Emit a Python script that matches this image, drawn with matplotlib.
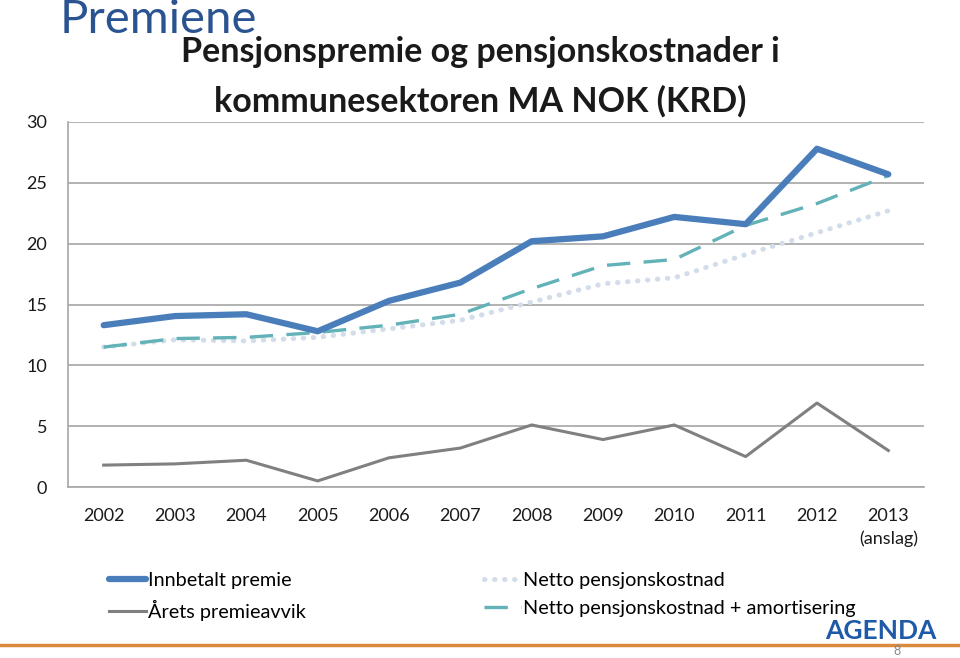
import matplotlib
matplotlib.use("Agg")
import matplotlib.pyplot as plt

years = ["2002", "2003", "2004", "2005", "2006", "2007", "2008", "2009",
         "2010", "2011", "2012", "2013\n(anslag)"]
innbetalt = [13.3, 14.05, 14.2, 12.8, 15.3, 16.8, 20.2, 20.6, 22.2, 21.6, 27.8, 25.7]
premieavvik = [1.8, 1.9, 2.2, 0.5, 2.4, 3.2, 5.1, 3.9, 5.1, 2.5, 6.9, 3.0]
netto = [11.5, 12.1, 12.0, 12.3, 13.0, 13.7, 15.2, 16.7, 17.2, 19.1, 20.9, 22.7]
netto_amort = [11.5, 12.2, 12.3, 12.7, 13.3, 14.2, 16.3, 18.2, 18.7, 21.5, 23.3, 25.6]
y_ticks = [0, 5, 10, 15, 20, 25, 30]

plt.rcParams["font.family"] = ["Lato", "DejaVu Sans"]

fig = plt.figure(figsize=(9.6, 6.58), dpi=100)
ax = fig.add_axes([68 / 960, 1 - 487 / 658, (924 - 68) / 960, (487 - 122) / 658])

x = list(range(len(years)))
ax.plot(x, netto, color="#D3DDEA", lw=3.6, linestyle=(0, (0.1, 1.9)),
        dash_capstyle="round", label="Netto pensjonskostnad", zorder=3)
ax.plot(x, netto_amort, color="#62B2B8", lw=2.4, linestyle=(0, (7, 4)),
        label="Netto pensjonskostnad + amortisering", zorder=4)
ax.plot(x, premieavvik, color="#808080", lw=2.2, label="Årets premieavvik", zorder=4)
ax.plot(x, innbetalt, color="#4A7EBB", lw=4.5, solid_capstyle="round",
        label="Innbetalt premie", zorder=5)

ax.set_xlim(-0.5, len(years) - 0.5)
ax.set_ylim(0, 30)
ax.set_yticks(y_ticks)
ax.yaxis.grid(True, color="#A6A6A6", lw=1.2)
ax.set_axisbelow(True)
ax.set_xticks(x)
ax.set_xticklabels(years, fontsize=13, color="#1A1A1A", linespacing=1.5)
ax.tick_params(axis="x", length=0, pad=15)
ax.tick_params(axis="y", length=0, pad=15, labelsize=13, labelcolor="#1A1A1A")
for lbl in ax.get_xticklabels():
    lbl.set_verticalalignment("top")
for side in ["top", "right"]:
    ax.spines[side].set_visible(False)
ax.spines["left"].set_color("#A6A6A6")
ax.spines["bottom"].set_color("#A6A6A6")
ax.spines["left"].set_linewidth(1.2)
ax.spines["bottom"].set_linewidth(1.2)

# slide header and chart title
fig.text(60 / 960, 1 - 20 / 658, "Premiene", fontsize=34, color="#2A5491",
         va="center", ha="left")
fig.text(480 / 960, 1 - 52 / 658, "Pensjonspremie og pensjonskostnader i",
         fontsize=24.5, fontweight="bold", color="#1A1A1A", ha="center", va="center")
fig.text(480 / 960, 1 - 101 / 658, "kommunesektoren MA NOK (KRD)",
         fontsize=24.5, fontweight="bold", color="#1A1A1A", ha="center", va="center")

# legend in the order shown on the slide
h, l = ax.get_legend_handles_labels()
order = [3, 2, 0, 1]
fig.legend([h[i] for i in order], [l[i] for i in order], ncol=2, frameon=False,
           loc="upper left", bbox_to_anchor=(91 / 960, 1 - 554 / 658),
           fontsize=14.3, handlelength=1.85, handletextpad=0.1,
           columnspacing=9.0, labelspacing=0.55)

# footer line, logo and page number
fig.add_artist(plt.Line2D([0, 1], [1 - 645 / 658] * 2, color="#D98A3C", lw=2.5,
                          transform=fig.transFigure))
fig.text(937 / 960, 1 - 631 / 658, "AGENDA", fontsize=19, fontweight="bold",
         color="#1F5AA8", ha="right", va="center")
fig.text(897 / 960, 1 - 651 / 658, "8", fontsize=9, color="#888888",
         ha="center", va="center")

fig.savefig("out.png", dpi=100)
